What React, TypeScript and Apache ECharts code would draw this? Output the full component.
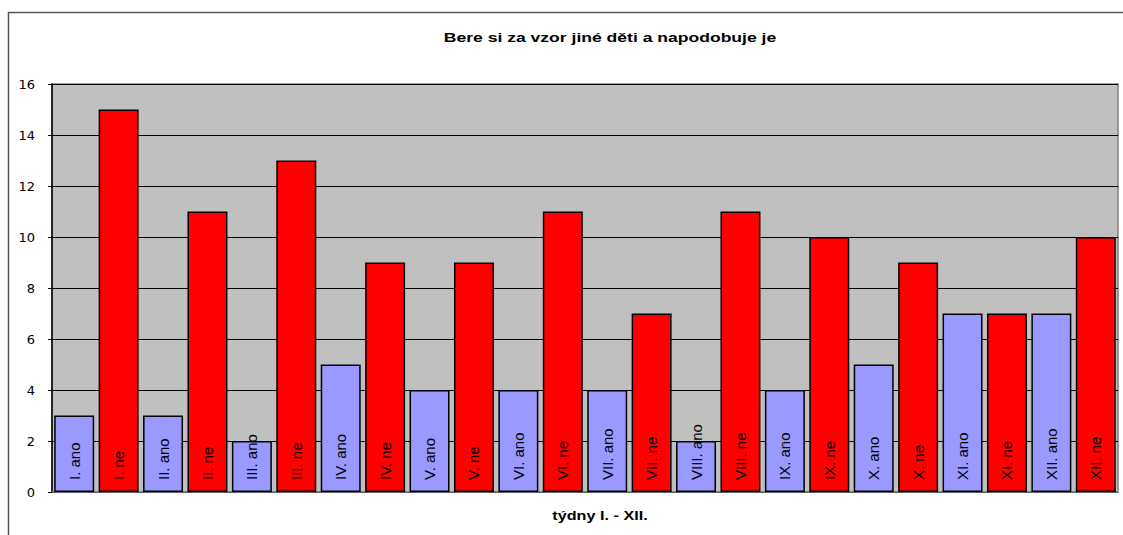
import React, { useEffect, useRef } from "react";
import * as echarts from "echarts";

const categories = [
  "I. ano", "I. ne", "II. ano", "II. ne", "III. ano", "III. ne",
  "IV. ano", "IV. ne", "V. ano", "V. ne", "VI. ano", "VI. ne",
  "VII. ano", "VII. ne", "VIII. ano", "VIII. ne", "IX. ano", "IX. ne",
  "X. ano", "X. ne", "XI. ano", "XI. ne", "XII. ano", "XII. ne",
];
const values = [3, 15, 3, 11, 2, 13, 5, 9, 4, 9, 4, 11, 4, 7, 2, 11, 4, 10, 5, 9, 7, 7, 7, 10];
const title = "Bere si za vzor jiné děti a napodobuje je";
const xName = "týdny I. - XII.";

const ANO = "#9999FF";
const NE = "#FF0000";
const FONT = "Liberation Sans, Arial, sans-serif";

export default function App() {
  const ref = useRef<HTMLDivElement>(null);
  useEffect(() => {
    document.body.style.margin = "0";
    const chart = echarts.init(ref.current!, undefined, { renderer: "svg" });
    chart.setOption({
      animation: false,
      backgroundColor: "#FFFFFF",
      graphic: [
        {
          type: "rect",
          shape: { x: 8.5, y: 12.5, width: 1300, height: 700 },
          style: { fill: "none", stroke: "#555555", lineWidth: 1.5 },
          silent: true,
        },
        {
          type: "text",
          x: 610,
          y: 37,
          scaleX: 1.35,
          style: {
            text: title,
            font: "bold 13px " + FONT,
            fill: "#000",
            align: "center",
            verticalAlign: "middle",
          },
        },
        {
          type: "text",
          x: 600,
          y: 516,
          scaleX: 1.35,
          style: {
            text: xName,
            font: "bold 12px " + FONT,
            fill: "#000",
            align: "center",
            verticalAlign: "middle",
          },
        },
      ],
      grid: {
        left: 52,
        top: 84,
        width: 1066,
        height: 408,
        show: true,
        backgroundColor: "#C0C0C0",
        borderColor: "#808080",
        borderWidth: 1.5,
      },
      xAxis: {
        type: "category",
        data: categories,
        axisLine: { show: true, lineStyle: { color: "#808080", width: 1.5 } },
        axisTick: { show: false },
        axisLabel: { show: false },
      },
      yAxis: {
        type: "value",
        min: 0,
        max: 16,
        interval: 2,
        axisLine: { show: true, lineStyle: { color: "#000", width: 1.5 } },
        axisTick: { show: true, length: 4, lineStyle: { color: "#000" } },
        axisLabel: { fontFamily: "DejaVu Sans", fontSize: 13, color: "#000", margin: 17 },
        splitLine: { show: true, lineStyle: { color: "#000", width: 1 } },
      },
      series: [
        {
          type: "bar",
          barCategoryGap: "10%",
          data: values.map((v, i) => ({
            value: v,
            itemStyle: { color: i % 2 === 0 ? ANO : NE },
          })),
          itemStyle: { borderColor: "#000", borderWidth: 1.5 },
          label: {
            show: true,
            position: "insideBottom",
            rotate: 90,
            align: "left",
            verticalAlign: "middle",
            distance: 12,
            formatter: (p: any) => categories[p.dataIndex],
            fontFamily: FONT,
            fontSize: 15,
            color: "#000",
          },
        },
      ],
    });
    return () => chart.dispose();
  }, []);
  return <div ref={ref} style={{ width: 1123, height: 535 }} />;
}
